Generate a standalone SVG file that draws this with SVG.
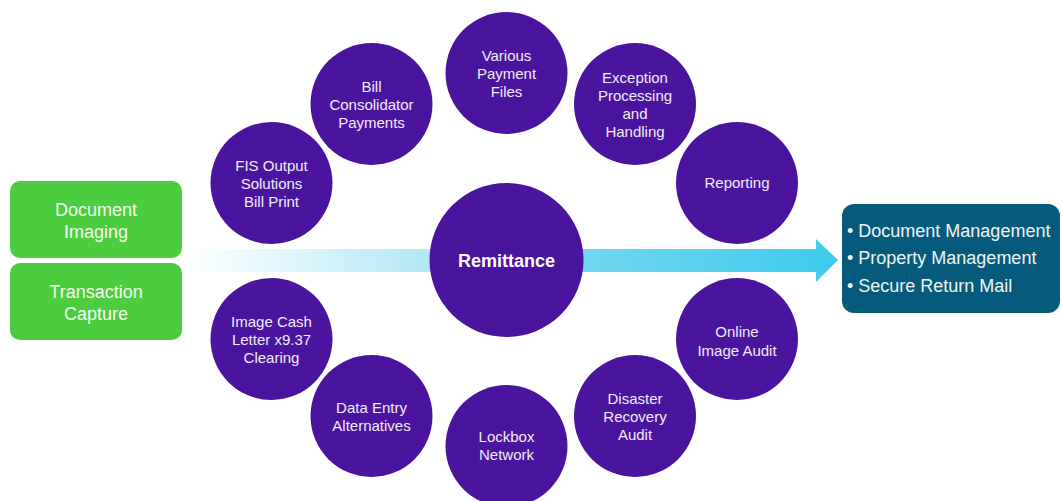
<svg xmlns="http://www.w3.org/2000/svg" width="1062" height="501" viewBox="0 0 1062 501">
<defs>
<linearGradient id="flow" x1="182" y1="0" x2="838" y2="0" gradientUnits="userSpaceOnUse">
<stop offset="0" stop-color="#ffffff"/>
<stop offset="0.38" stop-color="#b2e8f6"/>
<stop offset="0.61" stop-color="#72d8f0"/>
<stop offset="1" stop-color="#3ccbec"/>
</linearGradient>
<style>
.green{fill:#4ccd3f;}
.gtxt{font-family:"Liberation Sans",Arial,sans-serif;font-size:18px;fill:#f4f8f2;text-anchor:middle;}
.bub{fill:#4b149e;}
.btxt{font-family:"Liberation Sans",Arial,sans-serif;font-size:15px;fill:#f0ecfa;text-anchor:middle;}
.ctxt{font-family:"Liberation Sans",Arial,sans-serif;font-size:18px;font-weight:bold;fill:#ffffff;text-anchor:middle;}
.out{fill:#065b7c;}
.otxt{font-family:"Liberation Sans",Arial,sans-serif;font-size:18px;fill:#eef4f7;}
</style>
</defs>
<rect width="1062" height="501" fill="#ffffff"/>
<g id="connectors">
<path d="M182,249 H816 V239 L838,260 L816,282 V272 H182 Z" fill="url(#flow)"/>
</g>
<g id="doc-imaging">
<rect class="green" x="10" y="181" width="172" height="77" rx="10"/>
<text class="gtxt" x="96" y="216">Document</text>
<text class="gtxt" x="96" y="238">Imaging</text>
</g>
<g id="transaction-capture">
<rect class="green" x="10" y="263" width="172" height="77" rx="10"/>
<text class="gtxt" x="96" y="298">Transaction</text>
<text class="gtxt" x="96" y="320">Capture</text>
</g>
<g id="remittance">
<circle class="bub" cx="506.5" cy="260" r="77"/>
<text class="ctxt" x="506.5" y="267">Remittance</text>
</g>
<g id="fis-output">
<circle class="bub" cx="271.5" cy="183" r="61"/>
<text class="btxt" x="271.5" y="171">FIS Output</text>
<text class="btxt" x="271.5" y="189">Solutions</text>
<text class="btxt" x="271.5" y="207">Bill Print</text>
</g>
<g id="bill-consolidator">
<circle class="bub" cx="371.5" cy="104" r="61"/>
<text class="btxt" x="371.5" y="92">Bill</text>
<text class="btxt" x="371.5" y="110">Consolidator</text>
<text class="btxt" x="371.5" y="128">Payments</text>
</g>
<g id="various-payment">
<circle class="bub" cx="506.5" cy="73" r="61"/>
<text class="btxt" x="506.5" y="61">Various</text>
<text class="btxt" x="506.5" y="79">Payment</text>
<text class="btxt" x="506.5" y="97">Files</text>
</g>
<g id="exception">
<circle class="bub" cx="635" cy="104" r="61"/>
<text class="btxt" x="635" y="83">Exception</text>
<text class="btxt" x="635" y="101">Processing</text>
<text class="btxt" x="635" y="119">and</text>
<text class="btxt" x="635" y="137">Handling</text>
</g>
<g id="reporting">
<circle class="bub" cx="737" cy="183" r="61"/>
<text class="btxt" x="737" y="188">Reporting</text>
</g>
<g id="online-image-audit">
<circle class="bub" cx="737" cy="339" r="61"/>
<text class="btxt" x="737" y="337">Online</text>
<text class="btxt" x="737" y="356">Image Audit</text>
</g>
<g id="disaster-recovery">
<circle class="bub" cx="635" cy="416" r="61"/>
<text class="btxt" x="635" y="404">Disaster</text>
<text class="btxt" x="635" y="422">Recovery</text>
<text class="btxt" x="635" y="440">Audit</text>
</g>
<g id="lockbox">
<circle class="bub" cx="506.5" cy="446" r="61"/>
<text class="btxt" x="506.5" y="442">Lockbox</text>
<text class="btxt" x="506.5" y="460">Network</text>
</g>
<g id="data-entry">
<circle class="bub" cx="371.5" cy="416" r="61"/>
<text class="btxt" x="371.5" y="413">Data Entry</text>
<text class="btxt" x="371.5" y="431">Alternatives</text>
</g>
<g id="image-cash-letter">
<circle class="bub" cx="271.5" cy="339" r="61"/>
<text class="btxt" x="271.5" y="327">Image Cash</text>
<text class="btxt" x="271.5" y="345">Letter x9.37</text>
<text class="btxt" x="271.5" y="363">Clearing</text>
</g>
<g id="outputs">
<rect class="out" x="842" y="204" width="218" height="109" rx="12"/>
<text class="otxt" x="847" y="237">• Document Management</text>
<text class="otxt" x="847" y="264">• Property Management</text>
<text class="otxt" x="847" y="292">• Secure Return Mail</text>
</g>
</svg>
